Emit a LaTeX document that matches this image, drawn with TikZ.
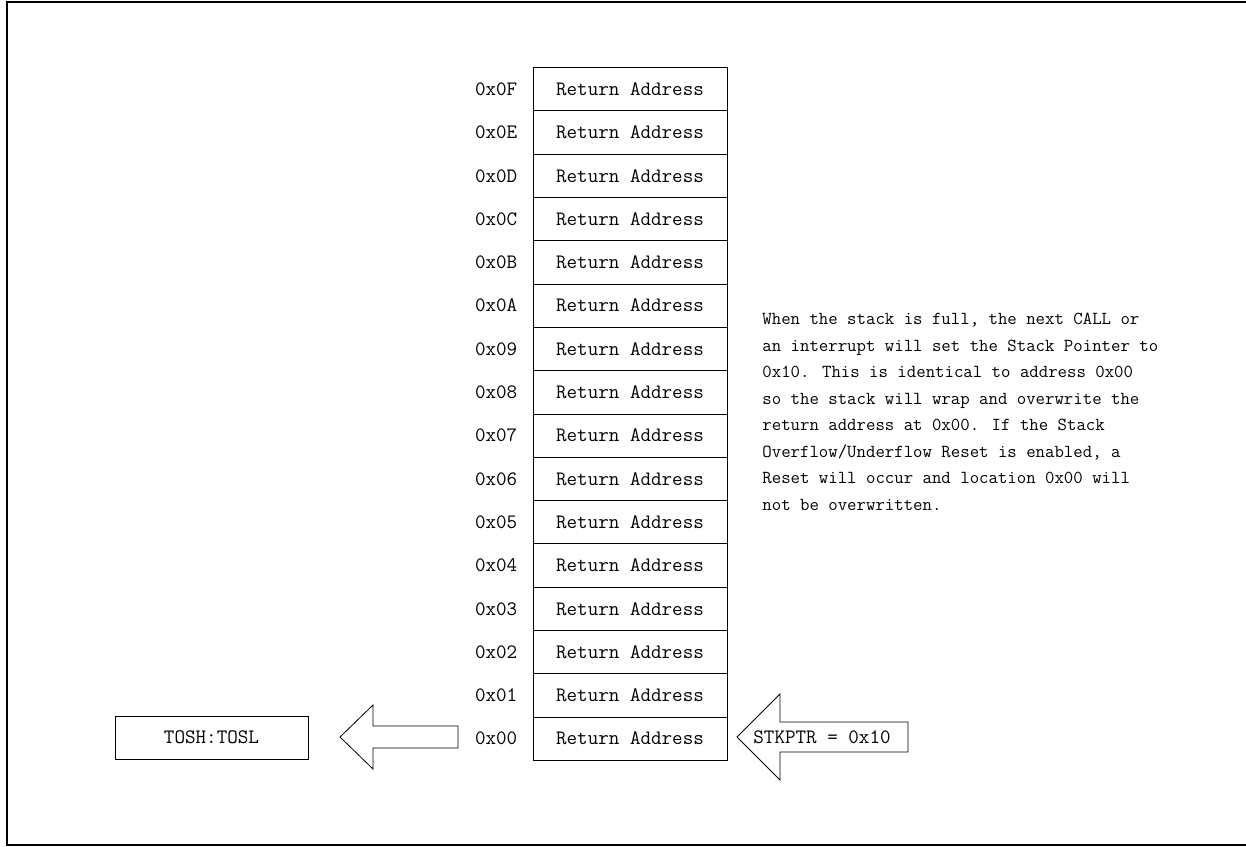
\documentclass[tikz,border=0pt]{standalone}
\usepackage{fontspec}

\tikzset{
 cellbox/.style={draw, minimum width=194pt, minimum height=43.3pt, inner sep=0pt},
 tosbox/.style={draw, minimum width=193pt, minimum height=43pt, inner sep=0pt}
}

\begin{document}
\begin{tikzpicture}[x=1pt,y=-1pt,line width=0.8pt,font=\ttfamily\fontsize{20.5}{22}\selectfont]
 \useasboundingbox (0,0) rectangle (1246,846);
 \draw[line width=2pt] (7,2) rectangle (1252,845);

 % stack cells, top of stack first
 \foreach \i/\lab in {0/0F,1/0E,2/0D,3/0C,4/0B,5/0A,6/09,7/08,8/07,9/06,10/05,11/04,12/03,13/02,14/01,15/00}{
  \node[cellbox] (cell\lab) at (630,{89.15+43.3*\i}) {Return Address};
  \node[anchor=east] (addr\lab) at (521,{89.15+43.3*\i}) {0x\lab};
 }

 % top of stack registers
 \node[tosbox] (tos) at (211.5,737.5) {TOSH:TOSL};
 \draw (340,737) -- (373,705) -- (373,726) -- (458,726)
  -- (458,748) -- (373,748) -- (373,769) -- cycle;

 % stack pointer
 \draw (737,737) -- (780,694) -- (780,722) -- (908,722)
  -- (908,752) -- (780,752) -- (780,780) -- cycle;
 \node (stkptr) at (822,737) {STKPTR = 0x10};

 \node[anchor=north west, inner sep=0pt, align=left, font=\ttfamily\fontsize{18.3}{26.5}\selectfont] (note) at (762,313)
  {When the stack is full, the next CALL or\\
   an interrupt will set the Stack Pointer to\\
   0x10. This is identical to address 0x00\\
   so the stack will wrap and overwrite the\\
   return address at 0x00. If the Stack\\
   Overflow/Underflow Reset is enabled, a\\
   Reset will occur and location 0x00 will\\
   not be overwritten.};
\end{tikzpicture}
\end{document}
